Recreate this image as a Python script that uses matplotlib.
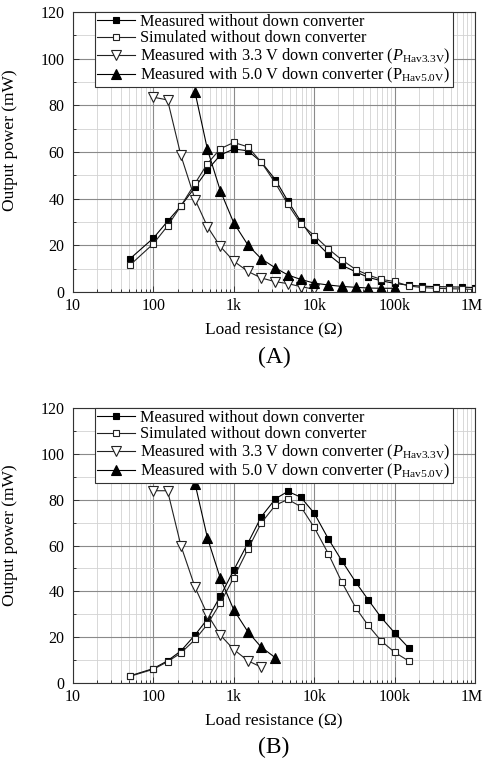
import matplotlib
matplotlib.use("Agg")
import matplotlib.pyplot as plt
from matplotlib.ticker import FixedLocator, LogLocator, NullFormatter, FixedFormatter, MultipleLocator

plt.rcParams['font.family'] = ['Liberation Serif', 'DejaVu Serif']
plt.rcParams['mathtext.fontset'] = 'custom'
plt.rcParams['mathtext.rm'] = 'Liberation Serif'
plt.rcParams['mathtext.it'] = 'Liberation Serif:italic'

# ---------------- data ----------------
R_full = [51, 100, 150, 220, 330, 470, 680, 1000, 1500, 2200, 3300, 4700, 6800,
          10e3, 15e3, 22e3, 33e3, 47e3, 68e3, 100e3, 150e3, 220e3, 330e3, 470e3, 680e3, 1e6]

A_meas = [14.2, 23.1, 30.3, 36.9, 44.9, 52.3, 58.7, 61.3, 60.5, 55.7, 48.1, 39.0, 30.3,
          22.2, 16.1, 11.5, 8.6, 6.3, 4.8, 3.7, 2.9, 2.5, 2.3, 2.2, 2.1, 1.9]
A_sim = [11.5, 20.7, 28.3, 36.9, 46.6, 55.0, 61.4, 64.1, 62.2, 55.6, 46.6, 37.6, 29.3,
         24.2, 18.5, 13.8, 9.6, 7.3, 5.4, 4.5, 2.6, 1.9, 1.6, 1.4, 1.3, 1.1]

R_33A = [100, 150, 220, 330, 470, 680, 1000, 1500, 2200, 3300, 4700, 6800, 10e3]
A_33 = [83.5, 82.3, 58.5, 39.6, 28.0, 19.5, 13.2, 8.8, 6.0, 4.4, 3.6, 2.3, 1.2]

R_50A = [330, 470, 680, 1000, 1500, 2200, 3300, 4700, 6800, 10e3, 15e3, 22e3, 33e3, 47e3, 68e3, 100e3]
A_50 = [85.5, 61.1, 43.4, 29.6, 20.1, 14.2, 10.3, 7.3, 5.4, 3.8, 3.0, 2.4, 2.0, 1.7, 1.6, 1.6]

R_B = [51, 100, 150, 220, 330, 470, 680, 1000, 1500, 2200, 3300, 4700, 6800,
       10e3, 15e3, 22e3, 33e3, 47e3, 68e3, 100e3, 150e3]
B_meas = [3.1, 6.3, 9.7, 14.0, 21.0, 27.9, 37.9, 49.3, 61.1, 72.6, 80.4, 83.6, 81.1,
          74.1, 62.9, 53.4, 43.9, 36.3, 28.6, 21.9, 15.3]
B_sim = [2.9, 6.0, 9.3, 13.1, 19.0, 25.6, 34.9, 46.0, 58.4, 69.9, 77.6, 80.1, 77.0,
         67.9, 56.4, 44.1, 32.7, 25.1, 18.4, 13.4, 9.6]

R_33B = [100, 150, 220, 330, 470, 680, 1000, 1500, 2200]
B_33 = [83.9, 83.9, 59.9, 41.7, 29.9, 20.9, 14.6, 9.7, 6.9]

R_50B = [330, 470, 680, 1000, 1500, 2200, 3300]
B_50 = [86.9, 63.3, 45.7, 31.9, 22.3, 15.6, 11.0]

labels = ["Measured without down converter",
          "Simulated without down converter",
          r"Measured with 3.3 V down converter ($P_{\mathrm{Hav3.3V}}$)",
          r"Measured with 5.0 V down converter (P$_{\mathrm{Hav5.0V}}$)"]
xtick_vals = [10, 100, 1e3, 1e4, 1e5, 1e6]
xtick_labels = ["10", "100", "1k", "10k", "100k", "1M"]
ytick_vals = [0, 20, 40, 60, 80, 100, 120]

fig = plt.figure(figsize=(4.85, 7.75), dpi=100)
axA = fig.add_axes([73/485, 1-292/775, 402/485, 280/775])
axB = fig.add_axes([73/485, 1-683/775, 402/485, 275/775])


def style(ax, panel, ylab_y):
    ax.set_xscale('log')
    ax.set_xlim(10, 1e6)
    ax.set_ylim(0, 120)
    ax.xaxis.set_major_locator(FixedLocator(xtick_vals))
    # last label drawn separately so it stays inside the figure
    ax.xaxis.set_major_formatter(FixedFormatter(xtick_labels[:-1] + [""]))
    ax.xaxis.set_minor_locator(LogLocator(base=10, subs=range(2, 10), numticks=20))
    ax.xaxis.set_minor_formatter(NullFormatter())
    ax.yaxis.set_major_locator(FixedLocator(ytick_vals))
    ax.yaxis.set_minor_locator(MultipleLocator(10))
    ax.tick_params(which='both', direction='in', labelsize=11.5, width=0.7, color='#333333')
    ax.tick_params(which='major', length=4)
    ax.tick_params(which='minor', length=2.5)
    ax.tick_params(axis='x', pad=4)
    ax.tick_params(axis='y', pad=6)
    ax.annotate(xtick_labels[-1], xy=(xtick_vals[-1], 0), xycoords=('data', 'axes fraction'),
                xytext=(-2, -4), textcoords='offset points', ha='center', va='top',
                fontsize=11.5)
    ax.grid(which='major', color='#8a8a8a', linewidth=0.8)
    ax.grid(which='minor', color='#d2d2d2', linewidth=0.6)
    ax.set_axisbelow(True)
    for s in ax.spines.values():
        s.set_linewidth(0.8)
        s.set_color('#333333')
    ax.set_xlabel("Load resistance (Ω)", fontsize=12.5, labelpad=6)
    ax.set_ylabel("Output power (mW)", fontsize=12.5)
    ax.yaxis.set_label_coords(-0.137, ylab_y)
    ax.text(0.5, -0.235, panel, transform=ax.transAxes, ha='center', va='center', fontsize=17)


def plot_set(ax, d):
    lw = 0.8
    ax.plot(d[0][0], d[0][1], '-', color='black', lw=lw, marker='s', ms=5,
            mfc='black', mec='black', mew=0.8, label=labels[0])
    ax.plot(d[1][0], d[1][1], '-', color='#222222', lw=lw, marker='s', ms=5,
            mfc='white', mec='#222222', mew=0.8, label=labels[1])
    ax.plot(d[2][0], d[2][1], '-', color='#222222', lw=lw, marker='v', ms=7,
            mfc='white', mec='#222222', mew=0.8, label=labels[2])
    ax.plot(d[3][0], d[3][1], '-', color='black', lw=lw, marker='^', ms=7,
            mfc='black', mec='black', mew=0.8, label=labels[3])
    leg = ax.legend(loc='upper left', bbox_to_anchor=(0.055, 1.0), fontsize=11.7,
                    frameon=True, fancybox=False, edgecolor='#333333', framealpha=1,
                    borderpad=0.12, labelspacing=0.02, handlelength=2.35,
                    handletextpad=0.3, borderaxespad=0.0)
    leg.get_frame().set_linewidth(0.8)


style(axA, "(A)", 0.543)
plot_set(axA, [(R_full, A_meas), (R_full, A_sim), (R_33A, A_33), (R_50A, A_50)])
style(axB, "(B)", 0.538)
plot_set(axB, [(R_B, B_meas), (R_B, B_sim), (R_33B, B_33), (R_50B, B_50)])

fig.savefig("out.png", dpi=100)
